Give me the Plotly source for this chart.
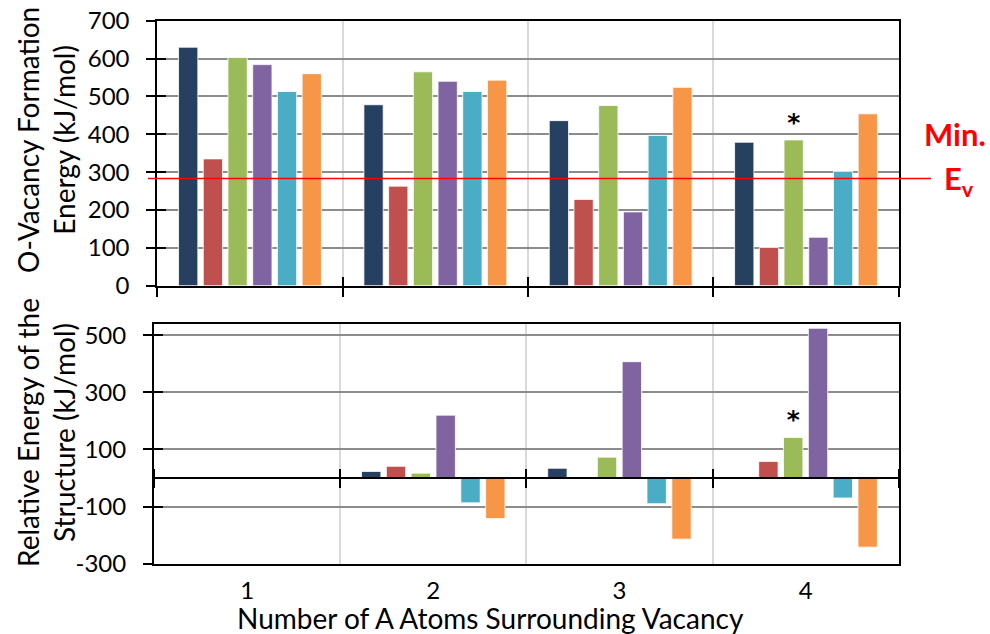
import plotly.graph_objects as go

W, H = 990, 634

categories = ["1", "2", "3", "4"]
series_colors = ["#254061", "#C0504D", "#9BBB59", "#8064A2", "#4BACC6", "#F79646"]

# O-vacancy formation energy (kJ/mol), one list per series
formation_1 = [630, 478, 436, 379]
formation_2 = [335, 263, 228, 101]
formation_3 = [603, 565, 476, 385]
formation_4 = [584, 540, 195, 128]
formation_5 = [513, 513, 397, 302]
formation_6 = [560, 543, 524, 454]

# relative energy of the structure (kJ/mol)
relative_1 = [0, 23, 34, 0]
relative_2 = [0, 41, 0, 58]
relative_3 = [0, 17, 73, 142]
relative_4 = [0, 220, 407, 524]
relative_5 = [0, -87, -90, -70]
relative_6 = [0, -142, -214, -242]

min_ev = 283
star_marks = ["", "", "", "<b>*</b>"]  # marked structure (series 3)

top_ticks = [0, 100, 200, 300, 400, 500, 600, 700]
bottom_ticks = [-300, -100, 100, 300, 500]
bottom_tick_text = ["-300", "-100", "100", "300", "500"]
bottom_range = [-300, 540]

formation = [formation_1, formation_2, formation_3, formation_4, formation_5, formation_6]
relative = [relative_1, relative_2, relative_3, relative_4, relative_5, relative_6]


def px_x(p):
    return p / W


def px_y(p):
    return 1 - p / H


top_dom = [px_y(285.7), px_y(20.7)]
bot_dom = [px_y(563.7), px_y(323.7)]
zero_pos = bot_dom[0] + (0 - bottom_range[0]) / (bottom_range[1] - bottom_range[0]) * (bot_dom[1] - bot_dom[0])

FONT = "Lato"
fig = go.Figure()

for i in range(6):
    star = dict(text=star_marks,
                textposition=["none" if not s else "outside" for s in star_marks],
                constraintext="none",
                textfont=dict(family="DejaVu Sans", size=25, color="black"),
                cliponaxis=False) if i == 2 else {}
    fig.add_trace(go.Bar(x=categories, y=formation[i], marker_color=series_colors[i],
                         marker_line=dict(color="rgba(255,255,255,0.8)", width=1),
                         xaxis="x", yaxis="y", showlegend=False, **star))
    fig.add_trace(go.Bar(x=categories, y=relative[i], marker_color=series_colors[i],
                         marker_line=dict(color="rgba(255,255,255,0.8)", width=1),
                         xaxis="x2", yaxis="y2", showlegend=False, **star))

# empty traces so the overlay axes (crossing tick marks) get drawn
empty = [None] * len(categories)
for xa, ya in [("x3", "y3"), ("x4", "y4"), ("x5", "y2")]:
    fig.add_trace(go.Scatter(x=categories, y=empty, xaxis=xa, yaxis=ya,
                             showlegend=False, hoverinfo="skip"))

tickfont = dict(family=FONT, size=24, color="black")
cat_common = dict(type="category", range=[-0.5, 3.5], tickson="boundaries",
                  categoryorder="array", categoryarray=categories, automargin=False)
tick_common = dict(ticklen=9, tickwidth=2, tickcolor="black")

fig.update_layout(
    width=W, height=H,
    margin=dict(l=0, r=0, t=0, b=0, autoexpand=False),
    paper_bgcolor="white", plot_bgcolor="white",
    barmode="group", bargap=0.2, bargroupgap=0.22,
    font=dict(family=FONT, color="black"),
    xaxis=dict(**cat_common, **tick_common, domain=[px_x(157.3), px_x(898.7)], anchor="y",
               showticklabels=False, ticks="outside",
               showgrid=True, gridcolor="#D9D9D9", gridwidth=2,
               showline=True, linecolor="black", linewidth=2, mirror=True),
    yaxis=dict(**tick_common, domain=top_dom, range=[0, 700], tickvals=top_ticks, anchor="x",
               ticks="outside", tickfont=tickfont, ticklabelstandoff=12, automargin=False,
               showgrid=True, gridcolor="#8C8C8C", gridwidth=1.5, zeroline=False,
               showline=True, linecolor="black", linewidth=2, mirror=True),
    xaxis3=dict(**cat_common, **tick_common, overlaying="x", anchor="y", showticklabels=False,
                ticks="inside", showgrid=False, showline=False),
    yaxis3=dict(**tick_common, overlaying="y", range=[0, 700], tickvals=top_ticks, anchor="x",
                ticks="inside", automargin=False,
                showticklabels=False, showgrid=False, zeroline=False, showline=False),
    xaxis2=dict(**cat_common, domain=[px_x(154), px_x(898.7)], anchor="y2",
                ticks="", tickfont=tickfont, ticklabelstandoff=4,
                showgrid=True, gridcolor="#D9D9D9", gridwidth=2,
                showline=True, linecolor="black", linewidth=2, mirror=True),
    yaxis2=dict(**tick_common, domain=bot_dom, range=bottom_range, tickvals=bottom_ticks,
                ticktext=bottom_tick_text, anchor="x2",
                ticks="outside", tickfont=tickfont, ticklabelstandoff=12, automargin=False,
                showgrid=True, gridcolor="#8C8C8C", gridwidth=1.5, zeroline=False,
                showline=True, linecolor="black", linewidth=2, mirror=True),
    yaxis4=dict(**tick_common, overlaying="y2", range=bottom_range, tickvals=bottom_ticks, anchor="x2",
                ticks="inside", automargin=False,
                showticklabels=False, showgrid=False, zeroline=False, showline=False),
    xaxis4=dict(**cat_common, **tick_common, overlaying="x2", anchor="free", position=zero_pos,
                side="bottom", showticklabels=False, ticks="outside",
                showgrid=False, showline=True, linecolor="black", linewidth=2),
    xaxis5=dict(**cat_common, **tick_common, overlaying="x2", anchor="free", position=zero_pos,
                side="top", showticklabels=False, ticks="outside",
                showgrid=False, showline=False),
)

# minimum vacancy formation energy line
fig.add_shape(type="line", xref="paper", yref="y", x0=px_x(148), x1=px_x(931),
              y0=min_ev, y1=min_ev, line=dict(color="#FF0000", width=1.5), layer="above")

ann = dict(xref="paper", yref="paper", showarrow=False, xanchor="center", yanchor="middle")
fig.add_annotation(text="<b>Min.</b>", x=px_x(955), y=px_y(134),
                   font=dict(family=FONT, size=31, color="#FF0000"), **ann)
fig.add_annotation(text="<b>E<sub>v</sub></b>", x=px_x(959), y=px_y(180),
                   font=dict(family=FONT, size=31, color="#FF0000"), **ann)

title_font = dict(family=FONT, size=28, color="black")
fig.add_annotation(text="O-Vacancy Formation<br>Energy (kJ/mol)", x=px_x(46), y=px_y(140),
                   textangle=-90, font=title_font, **ann)
fig.add_annotation(text="Relative Energy of the<br>Structure (kJ/mol)", x=px_x(46), y=px_y(433),
                   textangle=-90, font=title_font, **ann)
fig.add_annotation(text="Number of A Atoms Surrounding Vacancy", x=px_x(490), y=px_y(618),
                   font=title_font, **ann)

fig.write_html("out.html", config={"displayModeBar": False},
               post_script="document.body.style.margin='0';")
